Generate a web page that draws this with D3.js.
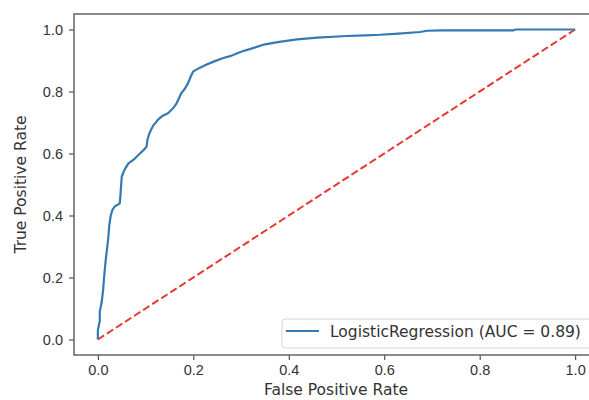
<!DOCTYPE html>
<html>
<head>
<meta charset="utf-8">
<script src="https://cdn.jsdelivr.net/npm/d3@7.9.0/dist/d3.min.js"></script>
<style>
  body { margin: 0; background: #fff; }
  svg { display: block; font-family: "DejaVu Sans", sans-serif; }
</style>
</head>
<body>
<svg id="chart" width="589" height="400"></svg>
<script>
// ROC points
const fpr = [0, 0.000, 0.004, 0.004, 0.008, 0.011, 0.013, 0.016, 0.019, 0.022, 0.024, 0.027, 0.031, 0.036, 0.042, 0.046, 0.048, 0.050,
  0.056, 0.064, 0.075, 0.088, 0.095, 0.102, 0.104, 0.108, 0.116, 0.126, 0.136, 0.147, 0.157, 0.165, 0.170, 0.175, 0.182, 0.189,
  0.195, 0.200, 0.214, 0.228, 0.245, 0.263, 0.277, 0.300, 0.325, 0.347, 0.380, 0.417, 0.460, 0.521, 0.560, 0.591, 0.630, 0.675,
  0.690, 0.720, 0.800, 0.870, 0.875, 1.0];
const tpr = [0, 0.030, 0.060, 0.090, 0.120, 0.160, 0.200, 0.250, 0.290, 0.330, 0.370, 0.400, 0.420, 0.430, 0.435, 0.440, 0.480, 0.525,
  0.548, 0.568, 0.580, 0.600, 0.610, 0.622, 0.645, 0.665, 0.690, 0.709, 0.722, 0.730, 0.745, 0.762, 0.778, 0.795, 0.808, 0.827,
  0.850, 0.865, 0.877, 0.887, 0.898, 0.908, 0.914, 0.928, 0.940, 0.951, 0.960, 0.968, 0.974, 0.979, 0.981, 0.983, 0.987, 0.992,
  0.996, 0.997, 0.997, 0.997, 1.0, 1.0];
const chance = [0, 1];
const ticks = [0, 0.2, 0.4, 0.6, 0.8, 1.0];
const legendLabel = 'LogisticRegression (AUC = 0.89)';

const svg = d3.select('#chart');
const mLeft = 74, mRight = 599, mTop = 14, mBottom = 355;

const x = d3.scaleLinear().domain([-0.05, 1.05]).range([mLeft, mRight]);
const y = d3.scaleLinear().domain([-0.05, 1.05]).range([mBottom, mTop]);

// axes
const xAxis = svg.append('g').attr('transform', `translate(0,${mBottom})`)
  .call(d3.axisBottom(x).tickValues(ticks).tickFormat(d3.format('.1f')).tickSizeOuter(0).tickSize(5).tickPadding(5));
const yAxis = svg.append('g').attr('transform', `translate(${mLeft},0)`)
  .call(d3.axisLeft(y).tickValues(ticks).tickFormat(d3.format('.1f')).tickSizeOuter(0).tickSize(5).tickPadding(6));
[xAxis, yAxis].forEach(g => {
  g.select('.domain').remove();
  g.selectAll('.tick line').attr('stroke', '#444').attr('stroke-width', 1.1);
  g.selectAll('.tick text').attr('fill', '#333').style('font-size', '14.5px');
});

// frame
svg.append('rect')
  .attr('x', mLeft).attr('y', mTop)
  .attr('width', mRight - mLeft).attr('height', mBottom - mTop)
  .attr('fill', 'none').attr('stroke', '#5a5a5a').attr('stroke-width', 1.4);

// chance line
svg.append('path')
  .datum(chance)
  .attr('d', d3.line().x(d => x(d)).y(d => y(d)))
  .attr('fill', 'none').attr('stroke', '#e8382f').attr('stroke-width', 2)
  .attr('stroke-dasharray', '7.5,3.3');

// roc curve
const pts = fpr.map((f, i) => [f, tpr[i]]);
svg.append('path')
  .datum(pts)
  .attr('d', d3.line().x(d => x(d[0])).y(d => y(d[1])))
  .attr('fill', 'none').attr('stroke', '#3479b3').attr('stroke-width', 2.2)
  .attr('stroke-linejoin', 'round');

// labels
svg.append('text').attr('x', 336).attr('y', 395)
  .attr('text-anchor', 'middle').style('font-size', '15.5px').attr('fill', '#333')
  .text('False Positive Rate');
svg.append('text')
  .attr('transform', `translate(26,${(mTop + mBottom) / 2}) rotate(-90)`)
  .attr('text-anchor', 'middle').style('font-size', '15.5px').attr('fill', '#333')
  .text('True Positive Rate');

// legend
const lg = svg.append('g');
lg.append('rect').attr('x', 282).attr('y', 319).attr('width', 310).attr('height', 29)
  .attr('rx', 3).attr('fill', 'rgba(255,255,255,0.85)').attr('stroke', '#d4d4d4').attr('stroke-width', 1);
lg.append('line').attr('x1', 286).attr('x2', 319).attr('y1', 331).attr('y2', 331)
  .attr('stroke', '#3479b3').attr('stroke-width', 2.2);
lg.append('text').attr('x', 330).attr('y', 337).style('font-size', '15.5px').attr('fill', '#333')
  .text(legendLabel);
</script>
</body>
</html>
